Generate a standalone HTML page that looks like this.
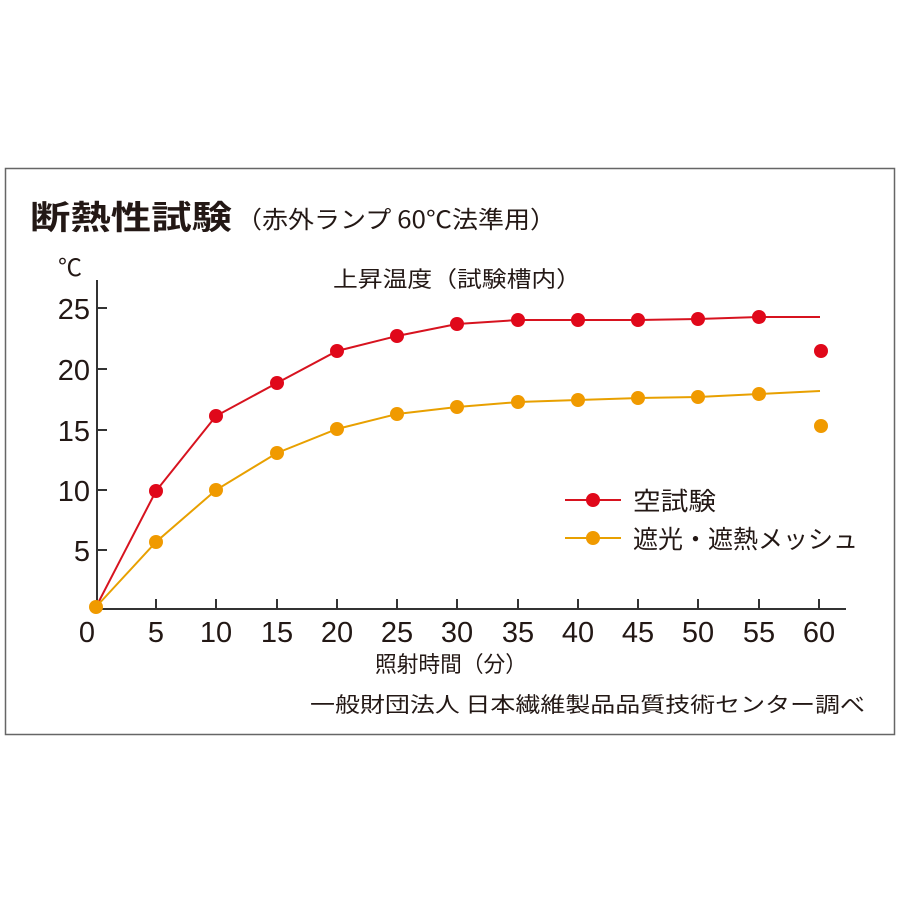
<!DOCTYPE html>
<html><head><meta charset="utf-8"><style>
body{margin:0;background:#fff;}
svg{display:block;font-family:"Liberation Sans","Noto Sans CJK JP",sans-serif;}
.j{font-family:"Noto Sans CJK JP",sans-serif;}
</style></head><body>
<svg width="900" height="900" viewBox="0 0 900 900">
<rect x="5.5" y="168.5" width="889" height="566" fill="#fff" stroke="#666" stroke-width="1.5"/>
<text x="30" y="229" font-size="33" font-weight="bold" fill="#231815" class="j" textLength="202" lengthAdjust="spacingAndGlyphs">断熱性試験</text>
<text x="236" y="228" font-size="24" fill="#231815" class="j" textLength="320" lengthAdjust="spacingAndGlyphs">（赤外ランプ 60℃法準用）</text>
<text x="58" y="276" font-size="24" fill="#231815" class="j">℃</text>
<text x="333" y="287" font-size="22" fill="#231815" class="j" textLength="248" lengthAdjust="spacingAndGlyphs">上昇温度（試験槽内）</text>
<g stroke="#333" stroke-width="2" fill="none">
<path d="M97 280V609H846"/>
<path d="M97 308h10M97 369h10M97 430h10M97 490h10M97 550h10"/>
<path d="M156 609v-10M216 609v-10M277 609v-10M337 609v-10M397 609v-10M457 609v-10M518 609v-10M578 609v-10M638 609v-10M698 609v-10M759 609v-10M819 609v-10"/>
</g>
<g font-size="29" fill="#231815" text-anchor="end">
<text x="90" y="319">25</text><text x="90" y="380">20</text><text x="90" y="441">15</text><text x="90" y="501">10</text><text x="90" y="561">5</text>
</g>
<g font-size="29" fill="#231815" text-anchor="middle">
<text x="87" y="642">0</text><text x="156" y="642">5</text><text x="216" y="642">10</text><text x="277" y="642">15</text><text x="337" y="642">20</text><text x="397" y="642">25</text><text x="457" y="642">30</text><text x="518" y="642">35</text><text x="578" y="642">40</text><text x="638" y="642">45</text><text x="698" y="642">50</text><text x="759" y="642">55</text><text x="819" y="642">60</text>
</g>
<text x="375" y="672" font-size="22" fill="#231815" class="j" textLength="152" lengthAdjust="spacingAndGlyphs">照射時間（分）</text>
<text x="310" y="712" font-size="21" fill="#231815" class="j" textLength="555" lengthAdjust="spacingAndGlyphs">一般財団法人 日本繊維製品品質技術センター調べ</text>
<polyline fill="none" stroke="#e8a000" stroke-width="2" points="96,607 156,542 216,490 277,453 337,429 397,414 457,407 518,402 578,400 638,398 698,397 759,394 820,391"/>
<polyline fill="none" stroke="#d7131f" stroke-width="2" points="96,607 156,491 216,416 277,383 337,351 397,336 457,324 518,320 578,320 638,320 698,319 759,317 820,317"/>
<g fill="#f09a00">
<circle cx="156" cy="542" r="7"/><circle cx="216" cy="490" r="7"/><circle cx="277" cy="453" r="7"/><circle cx="337" cy="429" r="7"/><circle cx="397" cy="414" r="7"/><circle cx="457" cy="407" r="7"/><circle cx="518" cy="402" r="7"/><circle cx="578" cy="400" r="7"/><circle cx="638" cy="398" r="7"/><circle cx="698" cy="397" r="7"/><circle cx="759" cy="394" r="7"/><circle cx="821" cy="426" r="7"/>
</g>
<g fill="#e0081a">
<circle cx="156" cy="491" r="7"/><circle cx="216" cy="416" r="7"/><circle cx="277" cy="383" r="7"/><circle cx="337" cy="351" r="7"/><circle cx="397" cy="336" r="7"/><circle cx="457" cy="324" r="7"/><circle cx="518" cy="320" r="7"/><circle cx="578" cy="320" r="7"/><circle cx="638" cy="320" r="7"/><circle cx="698" cy="319" r="7"/><circle cx="759" cy="317" r="7"/><circle cx="821" cy="351" r="7"/>
</g>
<circle cx="96" cy="607" r="7" fill="#f09a00"/>
<line x1="565" y1="500" x2="621" y2="500" stroke="#d7131f" stroke-width="2"/>
<circle cx="593" cy="500" r="7" fill="#e0081a"/>
<line x1="565" y1="538" x2="621" y2="538" stroke="#e8a000" stroke-width="2"/>
<circle cx="593" cy="538" r="7" fill="#f09a00"/>
<text x="633" y="510" font-size="25" fill="#231815" class="j" textLength="83" lengthAdjust="spacingAndGlyphs">空試験</text>
<text x="633" y="548" font-size="25" fill="#231815" class="j" textLength="225" lengthAdjust="spacingAndGlyphs">遮光・遮熱メッシュ</text>
</svg>
</body></html>
